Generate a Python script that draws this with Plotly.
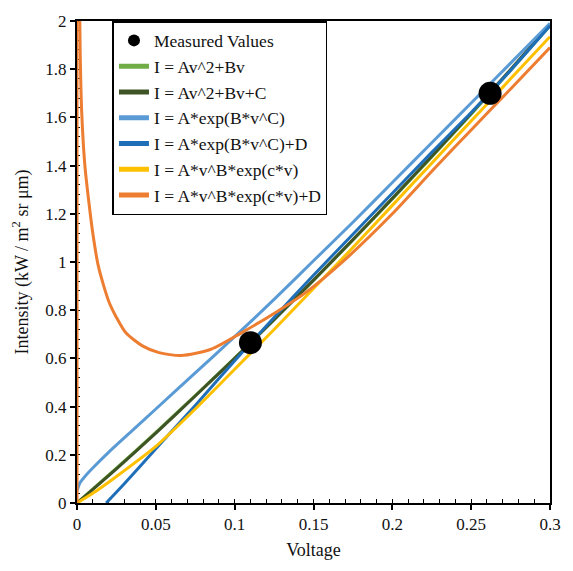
import plotly.graph_objects as go

# Measured values
meas_v = [0.110, 0.262]
meas_i = [0.665, 1.700]

# I = Av^2+Bv
quad_v = [0.0, 0.025, 0.05, 0.075, 0.1, 0.125, 0.15, 0.175, 0.2, 0.225, 0.25, 0.275, 0.3]
quad_i = [0.0, 0.145, 0.293, 0.446, 0.601, 0.761, 0.924, 1.091, 1.262, 1.436, 1.613, 1.795, 1.980]

# I = Av^2+Bv+C
quadc_v = [0.0, 0.025, 0.05, 0.075, 0.1, 0.125, 0.15, 0.175, 0.2, 0.225, 0.25, 0.275, 0.3]
quadc_i = [0.0, 0.142, 0.290, 0.444, 0.600, 0.761, 0.925, 1.093, 1.264, 1.439, 1.617, 1.799, 1.985]

# I = A*exp(B*v^C)
exp_v = [0.0, 0.002, 0.005, 0.01, 0.02, 0.035, 0.05, 0.075, 0.1, 0.125, 0.15, 0.175, 0.2, 0.225, 0.25, 0.275, 0.3]
exp_i = [0.05, 0.085, 0.11, 0.145, 0.21, 0.30, 0.39, 0.54, 0.69, 0.845, 1.005, 1.165, 1.33, 1.495, 1.66, 1.825, 1.99]

# I = A*exp(B*v^C)+D
expd_v = [0.0185, 0.03, 0.05, 0.075, 0.1, 0.125, 0.15, 0.175, 0.2, 0.225, 0.25, 0.275, 0.3]
expd_i = [0.0, 0.08, 0.225, 0.405, 0.59, 0.77, 0.945, 1.115, 1.285, 1.455, 1.62, 1.795, 1.98]

# I = A*v^B*exp(c*v)
pw_v = [0.0, 0.01, 0.025, 0.05, 0.075, 0.1, 0.125, 0.15, 0.175, 0.2, 0.225, 0.25, 0.275, 0.3]
pw_i = [0.0, 0.04, 0.11, 0.235, 0.39, 0.555, 0.72, 0.89, 1.06, 1.235, 1.41, 1.585, 1.76, 1.935]

# I = A*v^B*exp(c*v)+D
pwd_v = [0.0015, 0.002, 0.003, 0.005, 0.0075, 0.01, 0.0133, 0.017, 0.0206, 0.025, 0.031, 0.0415, 0.052, 0.066,
         0.085, 0.104, 0.127, 0.145, 0.17, 0.2, 0.227, 0.25, 0.275, 0.3]
pwd_i = [2.15, 1.88, 1.62, 1.40, 1.25, 1.12, 0.99, 0.90, 0.829, 0.77, 0.706, 0.652, 0.624, 0.612,
         0.638, 0.705, 0.795, 0.873, 1.01, 1.20, 1.39, 1.548, 1.718, 1.89]
pwd_axis_v = [0.0, 0.0]
pwd_axis_i = [0.0, 2.0]

names = ["Measured Values", "I = Av^2+Bv", "I = Av^2+Bv+C", "I = A*exp(B*v^C)",
         "I = A*exp(B*v^C)+D", "I = A*v^B*exp(c*v)", "I = A*v^B*exp(c*v)+D"]
colors = ["#000000", "#70AD47", "#3E5425", "#5B9BD5", "#1F6FB8", "#FFC000", "#ED7D31"]

fig = go.Figure()
series = [(quad_v, quad_i), (quadc_v, quadc_i), (exp_v, exp_i), (expd_v, expd_i), (pw_v, pw_i), (pwd_v, pwd_i)]
for k, (vv, ii) in enumerate(series):
    fig.add_trace(go.Scatter(x=vv, y=ii, mode="lines", name=names[k + 1],
                             line=dict(color=colors[k + 1], width=3, shape="spline", smoothing=0.7),
                             legendrank=k + 2))
fig.add_trace(go.Scatter(x=pwd_axis_v, y=pwd_axis_i, mode="lines", showlegend=False,
                         line=dict(color=colors[6], width=3), hoverinfo="skip"))
fig.add_trace(go.Scatter(x=meas_v, y=meas_i, mode="markers", name=names[0],
                         marker=dict(color="black", size=23), legendrank=1, cliponaxis=False))

font = "Times New Roman"
fig.update_layout(
    width=573, height=571,
    margin=dict(l=77, r=16, t=13, b=68),
    paper_bgcolor="white", plot_bgcolor="white",
    font=dict(family=font, size=17, color="#111"),
    showlegend=True,
    legend=dict(x=0.075, y=1.0, xanchor="left", yanchor="top",
                bordercolor="black", borderwidth=1.5, bgcolor="white",
                font=dict(family=font, size=17.5, color="#111"),
                itemsizing="constant", traceorder="normal"),
    xaxis=dict(range=[0, 0.3], tickvals=[0, 0.05, 0.1, 0.15, 0.2, 0.25, 0.3],
               ticktext=["0", "0.05", "0.1", "0.15", "0.2", "0.25", "0.3"],
               ticks="outside", ticklen=5, tickwidth=1.5, tickcolor="black",
               showline=True, linecolor="black", linewidth=2, mirror=True,
               showgrid=False, zeroline=False, layer="below traces",
               minor=dict(ticks="inside", ticklen=4, tickwidth=1.2, tickcolor="black", dtick=0.01),
               title=dict(text="Voltage", font=dict(family=font, size=18, color="#111"), standoff=10)),
    yaxis=dict(range=[0, 2], tickvals=[0, 0.2, 0.4, 0.6, 0.8, 1, 1.2, 1.4, 1.6, 1.8, 2],
               ticktext=["0", "0.2", "0.4", "0.6", "0.8", "1", "1.2", "1.4", "1.6", "1.8", "2"],
               ticks="outside", ticklen=5, tickwidth=1.5, tickcolor="black",
               showline=True, linecolor="black", linewidth=2, mirror=True,
               showgrid=False, zeroline=False, layer="below traces",
               minor=dict(ticks="inside", ticklen=3, tickwidth=1.2, tickcolor="black", dtick=0.04),
               title=dict(text="Intensity (kW / m<sup>2</sup> sr μm)",
                          font=dict(family=font, size=18, color="#111"), standoff=12)),
)
fig.write_html("out.html")
